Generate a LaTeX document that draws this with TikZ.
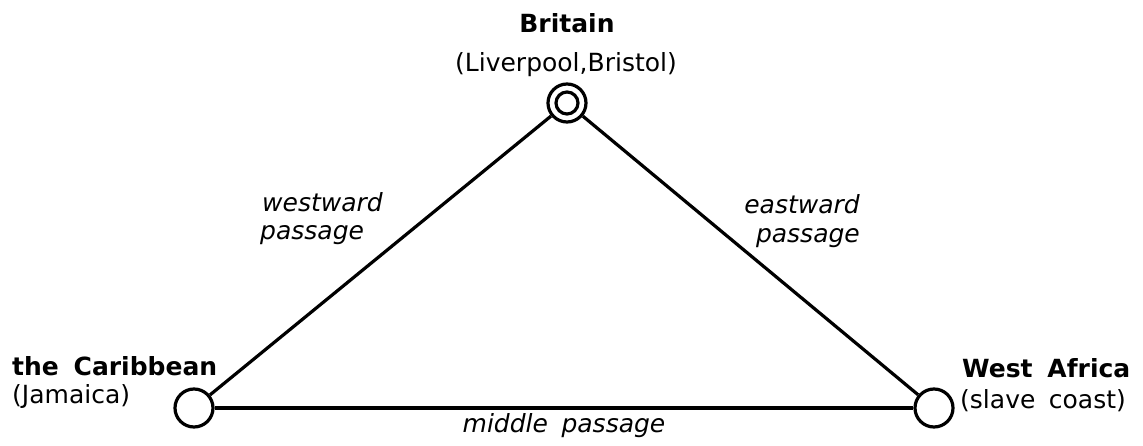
\documentclass[tikz,border=0pt]{standalone}
\usepackage{fontspec}
\setmainfont[WordSpace=1.7]{DejaVu Sans}
\begin{document}
\begin{tikzpicture}[x=1pt,y=-1pt,
  port/.style={circle, draw, line width=3.2pt, minimum size=38pt, inner sep=0pt, fill=white},
  route/.style={line width=3.2pt},
  place/.style={font=\fontsize{25}{30}\selectfont\bfseries, inner sep=0pt},
  city/.style={font=\fontsize{25}{30}\selectfont, inner sep=0pt},
  leg/.style={font=\fontsize{25}{30}\selectfont\itshape, inner sep=0pt}]
\useasboundingbox (0,0) rectangle (1143,446);

% ports of the triangular trade
\node[port] (britain) at (567,103) {};
\node[circle, draw, line width=3.2pt, minimum size=22pt, inner sep=0pt] (britaincore) at (britain.center) {};
\node[port] (carib) at (194,408) {};
\node[port] (wafrica) at (934,408) {};

% the three legs of the voyage
\draw[route] (britain) -- (carib);
\draw[route] (britain) -- (wafrica);
\draw[route] (carib) -- (wafrica);

% place names
\node[place, anchor=base] (britainname) at (567,33) {Britain};
\node[city, anchor=base] (britaincities) at (566,72) {(Liverpool,Bristol)};
\node[place, anchor=base west] (caribname) at (12,375) {the Caribbean};
\node[city, anchor=base west] (caribcity) at (12,403) {(Jamaica)};
\node[place, anchor=base west] (wafricaname) at (962,377) {West Africa};
\node[city, anchor=base west] (wafricacoast) at (960,408) {(slave coast)};

% passage labels
\node[leg, anchor=base west] (westa) at (262,212) {westward};
\node[leg, anchor=base west] (westb) at (260,240) {passage};
\node[leg, anchor=base east] (easta) at (860,214) {eastward};
\node[leg, anchor=base east] (eastb) at (860,243) {passage};
\node[leg, anchor=base] (middle) at (564,432) {middle passage};
\end{tikzpicture}
\end{document}
